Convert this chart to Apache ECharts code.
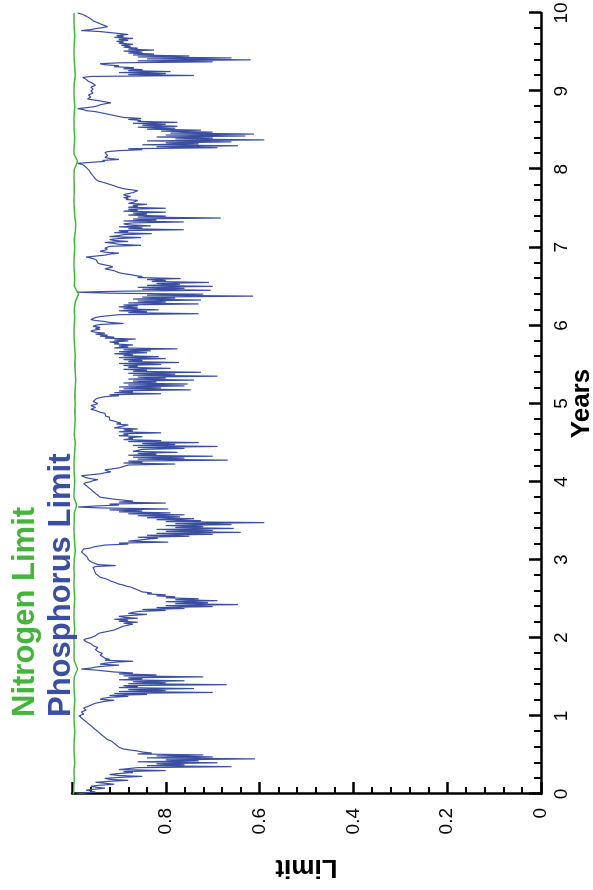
<!DOCTYPE html>
<html>
<head>
<meta charset="utf-8">
<script src="https://cdn.jsdelivr.net/npm/echarts@6/dist/echarts.min.js"></script>
<style>
  html, body { margin: 0; padding: 0; background: #ffffff; overflow: hidden; }
  #wrap { position: absolute; left: 0; top: 0; width: 593px; height: 890px; overflow: hidden; }
  #chart { position: absolute; left: 0; top: 0; width: 890px; height: 593px;
           transform-origin: 0 0; transform: translateY(890px) rotate(-90deg); }
</style>
</head>
<body>
<div id="wrap"><div id="chart"></div></div>
<script>
// ---- data ----
const yearTicks = [0, 1, 2, 3, 4, 5, 6, 7, 8, 9, 10];
const limitTicks = [0, 0.2, 0.4, 0.6, 0.8];
const seriesNames = ['Nitrogen Limit', 'Phosphorus Limit'];

// Phosphorus Limit: outer reading at each 0.025-year mark (years 0 .. 10)
const phosphorusStep = 0.025;
const phosphorusLimit = [
  0.99, 0.95, 0.97, 0.93, 0.96, 0.91, 0.95, 0.88, 0.93, 0.85,
  0.92, 0.87, 0.80, 0.90, 0.66, 0.76, 0.69, 0.73, 0.61, 0.70,
  0.72, 0.83, 0.86, 0.89, 0.90, 0.905, 0.91, 0.915, 0.925, 0.93,
  0.935, 0.94, 0.945, 0.95, 0.955, 0.96, 0.965, 0.97, 0.975, 0.98,
  0.985, 0.975, 0.98, 0.97, 0.975, 0.965, 0.955, 0.94, 0.91, 0.935,
  0.88, 0.84, 0.70, 0.80, 0.74, 0.86, 0.67, 0.80, 0.76, 0.85,
  0.72, 0.82, 0.87, 0.93, 0.98, 0.95, 0.90, 0.93, 0.87, 0.92,
  0.93, 0.94, 0.935, 0.945, 0.95, 0.945, 0.955, 0.96, 0.97, 0.975,
  0.96, 0.95, 0.945, 0.93, 0.91, 0.90, 0.89, 0.87, 0.86, 0.88,
  0.86, 0.90, 0.84, 0.87, 0.80, 0.76, 0.70, 0.646, 0.71, 0.69,
  0.73, 0.78, 0.80, 0.83, 0.85, 0.86, 0.875, 0.89, 0.905, 0.917,
  0.925, 0.94, 0.945, 0.95, 0.95, 0.953, 0.955, 0.907, 0.95, 0.96,
  0.965, 0.967, 0.97, 0.975, 0.98, 0.98, 0.96, 0.943, 0.88, 0.795,
  0.86, 0.817, 0.75, 0.70, 0.64, 0.70, 0.655, 0.72, 0.66, 0.59,
  0.725, 0.74, 0.77, 0.76, 0.79, 0.85, 0.795, 0.987, 0.90, 0.80,
  0.87, 0.91, 0.94, 0.945, 0.95, 0.955, 0.96, 0.965, 0.97, 0.975,
  0.96, 0.945, 0.97, 0.98, 0.94, 0.917, 0.93, 0.90, 0.896, 0.78,
  0.85, 0.668, 0.76, 0.70, 0.82, 0.775, 0.86, 0.76, 0.69, 0.78,
  0.73, 0.81, 0.87, 0.85, 0.88, 0.81, 0.87, 0.86, 0.90, 0.88,
  0.896, 0.91, 0.924, 0.92, 0.93, 0.93, 0.94, 0.96, 0.95, 0.96,
  0.945, 0.955, 0.953, 0.94, 0.90, 0.81, 0.87, 0.747, 0.81, 0.76,
  0.753, 0.82, 0.74, 0.80, 0.69, 0.78, 0.725, 0.84, 0.79, 0.86,
  0.81, 0.772, 0.85, 0.80, 0.815, 0.87, 0.84, 0.832, 0.775, 0.88,
  0.87, 0.90, 0.88, 0.864, 0.91, 0.924, 0.93, 0.96, 0.94, 0.94,
  0.95, 0.89, 0.93, 0.96, 0.95, 0.92, 0.73, 0.84, 0.815, 0.86,
  0.86, 0.73, 0.80, 0.725, 0.78, 0.614, 0.72, 0.99, 0.704, 0.76,
  0.70, 0.77, 0.708, 0.80, 0.768, 0.85, 0.875, 0.90, 0.91, 0.93,
  0.913, 0.93, 0.945, 0.943, 0.953, 0.97, 0.93, 0.90, 0.94, 0.924,
  0.93, 0.853, 0.91, 0.88, 0.92, 0.853, 0.90, 0.83, 0.88, 0.762,
  0.85, 0.832, 0.89, 0.762, 0.82, 0.683, 0.80, 0.84, 0.80, 0.86,
  0.80, 0.86, 0.84, 0.87, 0.86, 0.88, 0.875, 0.89, 0.87, 0.86,
  0.89, 0.905, 0.917, 0.93, 0.945, 0.95, 0.953, 0.956, 0.96, 0.962,
  0.966, 0.97, 0.975, 0.988, 0.93, 0.90, 0.93, 0.924, 0.92, 0.924,
  0.85, 0.69, 0.646, 0.73, 0.66, 0.59, 0.70, 0.63, 0.612, 0.70,
  0.725, 0.78, 0.775, 0.80, 0.775, 0.853, 0.853, 0.90, 0.92, 0.94,
  0.97, 0.988, 0.953, 0.94, 0.917, 0.94, 0.967, 0.96, 0.965, 0.955,
  0.96, 0.955, 0.96, 0.95, 0.956, 0.965, 0.97, 0.977, 0.74, 0.80,
  0.79, 0.85, 0.868, 0.90, 0.94, 0.70, 0.619, 0.66, 0.75, 0.825,
  0.85, 0.825, 0.86, 0.875, 0.87, 0.89, 0.88, 0.87, 0.89, 0.88,
  0.90, 0.98, 0.95, 0.924, 0.935, 0.945, 0.955, 0.96, 0.967, 0.975,
  0.988
];

// Phosphorus Limit: inner (baseline) reading midway between consecutive marks
const phosphorusBaseline = [
  0.97, 0.96, 0.95, 0.95, 0.94, 0.93, 0.92, 0.92, 0.90, 0.90,
  0.90, 0.89, 0.90, 0.86, 0.84, 0.82, 0.86, 0.80, 0.84, 0.82,
  0.86, 0.85, 0.875, 0.895, 0.902, 0.907, 0.912, 0.92, 0.928, 0.932,
  0.937, 0.942, 0.947, 0.952, 0.957, 0.962, 0.967, 0.972, 0.977, 0.982,
  0.98, 0.978, 0.975, 0.972, 0.97, 0.96, 0.95, 0.93, 0.94, 0.92,
  0.92, 0.91, 0.90, 0.88, 0.90, 0.89, 0.88, 0.87, 0.90, 0.88,
  0.89, 0.90, 0.91, 0.95, 0.96, 0.93, 0.94, 0.91, 0.93, 0.93,
  0.935, 0.94, 0.94, 0.948, 0.948, 0.95, 0.958, 0.965, 0.972, 0.97,
  0.955, 0.948, 0.94, 0.92, 0.905, 0.895, 0.88, 0.89, 0.90, 0.91,
  0.89, 0.87, 0.88, 0.86, 0.85, 0.82, 0.80, 0.78, 0.80, 0.78,
  0.80, 0.82, 0.84, 0.85, 0.86, 0.87, 0.885, 0.90, 0.91, 0.92,
  0.932, 0.943, 0.948, 0.95, 0.952, 0.954, 0.95, 0.945, 0.955, 0.962,
  0.966, 0.968, 0.972, 0.978, 0.982, 0.975, 0.955, 0.93, 0.90, 0.88,
  0.84, 0.86, 0.84, 0.82, 0.80, 0.82, 0.78, 0.80, 0.78, 0.80,
  0.82, 0.84, 0.86, 0.88, 0.90, 0.92, 0.94, 0.95, 0.92, 0.90,
  0.89, 0.925, 0.942, 0.948, 0.952, 0.958, 0.962, 0.968, 0.972, 0.97,
  0.955, 0.96, 0.975, 0.96, 0.93, 0.925, 0.915, 0.90, 0.88, 0.89,
  0.88, 0.86, 0.87, 0.88, 0.86, 0.87, 0.85, 0.86, 0.87, 0.85,
  0.88, 0.89, 0.88, 0.90, 0.89, 0.90, 0.89, 0.91, 0.90, 0.905,
  0.905, 0.92, 0.922, 0.928, 0.93, 0.94, 0.95, 0.955, 0.955, 0.95,
  0.95, 0.954, 0.948, 0.93, 0.92, 0.91, 0.90, 0.89, 0.90, 0.88,
  0.89, 0.87, 0.88, 0.86, 0.87, 0.88, 0.87, 0.89, 0.88, 0.89,
  0.90, 0.88, 0.89, 0.90, 0.89, 0.91, 0.90, 0.89, 0.91, 0.90,
  0.91, 0.92, 0.91, 0.93, 0.94, 0.95, 0.95, 0.955, 0.95, 0.955,
  0.94, 0.92, 0.95, 0.955, 0.94, 0.90, 0.88, 0.90, 0.89, 0.90,
  0.89, 0.88, 0.86, 0.87, 0.85, 0.84, 0.92, 0.90, 0.85, 0.86,
  0.84, 0.82, 0.83, 0.84, 0.86, 0.865, 0.89, 0.905, 0.92, 0.92,
  0.92, 0.94, 0.944, 0.948, 0.96, 0.95, 0.92, 0.93, 0.93, 0.93,
  0.92, 0.90, 0.93, 0.91, 0.90, 0.92, 0.89, 0.91, 0.90, 0.88,
  0.90, 0.88, 0.87, 0.89, 0.87, 0.86, 0.88, 0.87, 0.89, 0.88,
  0.88, 0.87, 0.88, 0.865, 0.885, 0.89, 0.885, 0.88, 0.865, 0.875,
  0.898, 0.91, 0.923, 0.937, 0.948, 0.952, 0.955, 0.958, 0.961, 0.964,
  0.968, 0.972, 0.98, 0.96, 0.935, 0.92, 0.93, 0.92, 0.93, 0.90,
  0.88, 0.82, 0.85, 0.80, 0.84, 0.78, 0.82, 0.80, 0.79, 0.81,
  0.84, 0.86, 0.85, 0.87, 0.86, 0.88, 0.89, 0.91, 0.93, 0.95,
  0.975, 0.97, 0.945, 0.93, 0.93, 0.955, 0.963, 0.962, 0.96, 0.958,
  0.958, 0.958, 0.955, 0.953, 0.96, 0.968, 0.974, 0.96, 0.88, 0.90,
  0.88, 0.89, 0.91, 0.93, 0.90, 0.86, 0.84, 0.86, 0.87, 0.88,
  0.89, 0.88, 0.89, 0.895, 0.90, 0.905, 0.90, 0.91, 0.905, 0.90,
  0.94, 0.96, 0.935, 0.93, 0.94, 0.95, 0.958, 0.963, 0.97, 0.98
];

// Nitrogen Limit, one reading every 0.1 years, from year 0 to year 10
const nitrogenStep = 0.1;
const nitrogenLimit = [
  0.997, 0.996, 0.995, 0.996, 0.994, 0.995, 0.996, 0.995, 0.994, 0.995,
  0.996, 0.995, 0.994, 0.995, 0.996, 0.995, 0.988, 0.995, 0.996, 0.995,
  0.996, 0.994, 0.995, 0.996, 0.995, 0.994, 0.995, 0.996, 0.995, 0.996,
  0.995, 0.993, 0.994, 0.995, 0.996, 0.995, 0.995, 0.990, 0.996, 0.995,
  0.994, 0.995, 0.996, 0.995, 0.994, 0.993, 0.995, 0.994, 0.993, 0.994,
  0.993, 0.994, 0.993, 0.992, 0.993, 0.994, 0.993, 0.994, 0.995, 0.996,
  0.995, 0.994, 0.995, 0.993, 0.986, 0.995, 0.994, 0.995, 0.996, 0.995,
  0.994, 0.995, 0.993, 0.992, 0.994, 0.995, 0.996, 0.995, 0.995, 0.996,
  0.995, 0.988, 0.996, 0.995, 0.994, 0.995, 0.996, 0.995, 0.994, 0.995,
  0.996, 0.995, 0.993, 0.994, 0.995, 0.996, 0.995, 0.994, 0.995, 0.996,
  0.996
];

const GREEN = '#46b43c';
const BLUE = '#3b4fa2';
const FONT = '"Liberation Sans", Arial, sans-serif';

const phosData = [];
phosphorusLimit.forEach((v, i) => {
  phosData.push([+(i * phosphorusStep).toFixed(4), v]);
  if (i < phosphorusBaseline.length) {
    phosData.push([+((i + 0.5) * phosphorusStep).toFixed(4), phosphorusBaseline[i]]);
  }
});
const nitroData = nitrogenLimit.map((v, i) => [+(i * nitrogenStep).toFixed(2), v]);

const chart = echarts.init(document.getElementById('chart'), null, { renderer: 'canvas' });
chart.setOption({
  animation: false,
  backgroundColor: '#ffffff',
  grid: { left: 96, right: 13, top: 72, bottom: 52, containLabel: false, outerBoundsMode: 'none' },
  legend: {
    orient: 'vertical',
    left: 168,
    top: 10,
    padding: 0,
    itemGap: 5,
    itemWidth: 0,
    itemHeight: 0,
    selectedMode: false,
    textStyle: { fontSize: 31, fontWeight: 'bold', fontFamily: FONT },
    data: [
      { name: seriesNames[0], icon: 'none', textStyle: { color: GREEN } },
      { name: seriesNames[1], icon: 'none', textStyle: { color: BLUE } }
    ]
  },
  xAxis: {
    type: 'value',
    min: yearTicks[0],
    max: yearTicks[yearTicks.length - 1],
    interval: 1,
    name: 'Years',
    nameLocation: 'middle',
    nameGap: 28,
    nameMoveOverlap: false,
    nameTextStyle: { fontSize: 26, fontWeight: 'bold', color: '#000', fontFamily: FONT },
    axisLine: { show: true, onZero: false, lineStyle: { color: '#000', width: 2.5 } },
    axisTick: { show: true, inside: true, length: 12, lineStyle: { color: '#000', width: 2.5 } },
    minorTick: { show: true, splitNumber: 5, length: 7, lineStyle: { color: '#000', width: 2 } },
    axisLabel: { fontSize: 19, color: '#000', margin: 11, fontFamily: FONT,
                 formatter: v => yearTicks.includes(v) ? String(v) : '' },
    splitLine: { show: false }
  },
  yAxis: {
    type: 'value',
    min: 0,
    max: 1,
    interval: 0.2,
    name: 'Limit',
    nameLocation: 'middle',
    nameRotate: 90,
    nameGap: 60,
    nameMoveOverlap: false,
    nameTextStyle: { fontSize: 26, fontWeight: 'bold', color: '#000', fontFamily: FONT },
    axisLine: { show: true, onZero: false, lineStyle: { color: '#000', width: 2.5 } },
    axisTick: { show: true, inside: true, length: 12, lineStyle: { color: '#000', width: 2.5 } },
    minorTick: { show: true, splitNumber: 5, length: 7, lineStyle: { color: '#000', width: 2 } },
    axisLabel: { fontSize: 19, color: '#000', margin: 14, fontFamily: FONT, showMaxLabel: false,
                 formatter: v => { const s = String(+v.toFixed(1)); return limitTicks.map(String).includes(s) ? s : ''; } },
    splitLine: { show: false }
  },
  series: [
    {
      name: seriesNames[0],
      type: 'line',
      data: nitroData,
      showSymbol: false,
      symbol: 'none',
      lineStyle: { color: GREEN, width: 1.5 },
      itemStyle: { color: GREEN },
      z: 3
    },
    {
      name: seriesNames[1],
      type: 'line',
      data: phosData,
      showSymbol: false,
      symbol: 'none',
      lineStyle: { color: BLUE, width: 1.2 },
      itemStyle: { color: BLUE },
      z: 2
    }
  ]
});
</script>
</body>
</html>
